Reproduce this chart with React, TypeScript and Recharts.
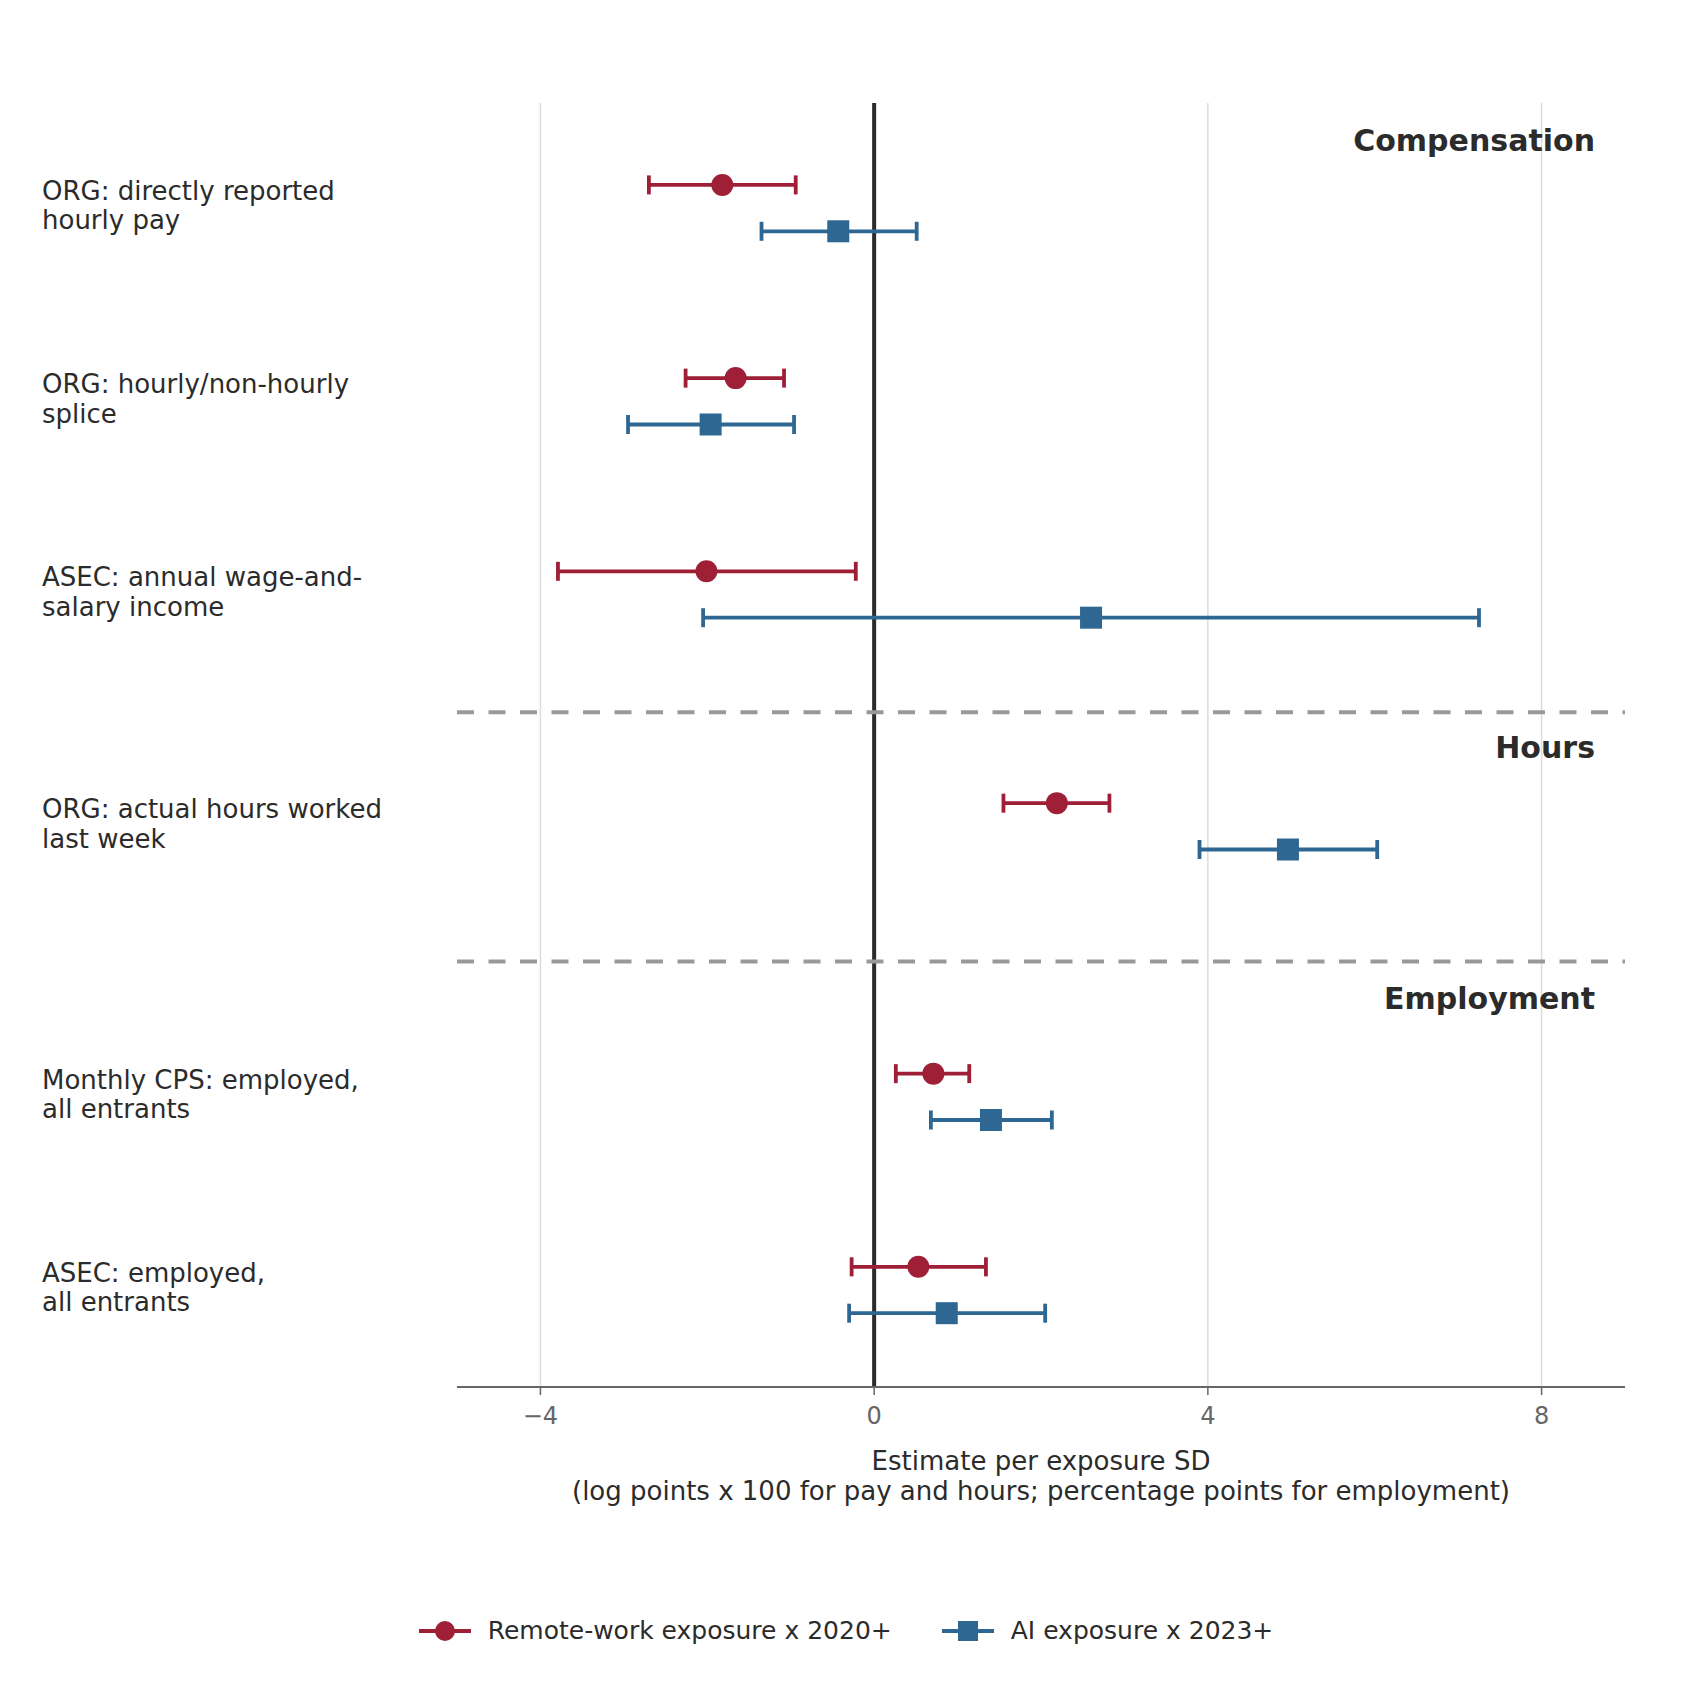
import {
  ComposedChart,
  Scatter,
  ErrorBar,
  XAxis,
  YAxis,
  ReferenceLine,
  Legend,
} from "recharts"

const rowLabels = [
  ["ORG: directly reported", "hourly pay"],
  ["ORG: hourly/non-hourly", "splice"],
  ["ASEC: annual wage-and-", "salary income"],
  ["ORG: actual hours worked", "last week"],
  ["Monthly CPS: employed,", "all entrants"],
  ["ASEC: employed,", "all entrants"],
]
const rowPositions = [0, 1, 2, 3.2, 4.6, 5.6]
const seriesOffset = 0.24

const remoteEst = [-1.82, -1.66, -2.01, 2.19, 0.71, 0.53]
const remoteLo = [-2.7, -2.26, -3.79, 1.55, 0.26, -0.27]
const remoteHi = [-0.94, -1.08, -0.22, 2.82, 1.14, 1.34]

const aiEst = [-0.43, -1.96, 2.6, 4.96, 1.4, 0.87]
const aiLo = [-1.35, -2.95, -2.05, 3.9, 0.68, -0.3]
const aiHi = [0.51, -0.96, 7.25, 6.03, 2.13, 2.05]

const sectionTitles = ["Compensation", "Hours", "Employment"]
const sectionTitleY = [-0.23, 2.91, 4.21]
const dividerY = [2.73, 4.02]

const xTicks = [-4, 0, 4, 8]

const RED = "#9e1f36"
const BLUE = "#2e6791"
const TEXT = "#2b2b2b"
const FONT = "DejaVu Sans, sans-serif"

const remoteData = remoteEst.map((v, i) => ({
  x: v,
  y: rowPositions[i],
  err: [v - remoteLo[i], remoteHi[i] - v],
}))
const aiData = aiEst.map((v, i) => ({
  x: v,
  y: rowPositions[i] + seriesOffset,
  err: [v - aiLo[i], aiHi[i] - v],
}))
const rowCenters = rowPositions.map((p) => p + seriesOffset / 2)

const Dot = (props: any) => <circle cx={props.cx} cy={props.cy} r={11} fill={RED} />
const Square = (props: any) => (
  <rect x={props.cx - 11} y={props.cy - 11} width={22} height={22} fill={BLUE} />
)

const RowTick = ({ y, payload }: any) => {
  const lines = rowLabels[rowCenters.indexOf(payload.value)] ?? []
  return (
    <text x={42} y={y - 2.5} fill={TEXT} fontSize={26} fontFamily={FONT} textAnchor="start" dominantBaseline="central">
      {lines.map((l, i) => (
        <tspan key={i} x={42} dy={i === 0 ? -((lines.length - 1) * 29.5) / 2 : 29.5}>
          {l}
        </tspan>
      ))}
    </text>
  )
}

const XLabel = ({ viewBox }: any) => {
  const cx = viewBox.x + viewBox.width / 2
  return (
    <text x={cx} y={1461} fill={TEXT} fontSize={26} fontFamily={FONT} textAnchor="middle" dominantBaseline="central">
      <tspan x={cx}>Estimate per exposure SD</tspan>
      <tspan x={cx} dy={30}>
        (log points x 100 for pay and hours; percentage points for employment)
      </tspan>
    </text>
  )
}

const legendItems = [
  { name: "Remote-work exposure x 2020+", color: RED, shape: "circle" },
  { name: "AI exposure x 2023+", color: BLUE, shape: "square" },
]

const LegendContent = () => (
  <div
    style={{
      display: "flex",
      justifyContent: "center",
      alignItems: "center",
      gap: 50,
      fontFamily: FONT,
      fontSize: 25,
      color: TEXT,
    }}
  >
    {legendItems.map((item) => (
      <div key={item.name} style={{ display: "flex", alignItems: "center", gap: 17 }}>
        <svg width={52} height={24}>
          <line x1={0} y1={12} x2={52} y2={12} stroke={item.color} strokeWidth={3.8} />
          {item.shape === "circle" ? (
            <circle cx={26} cy={12} r={10} fill={item.color} />
          ) : (
            <rect x={16} y={2} width={20} height={20} fill={item.color} />
          )}
        </svg>
        <span>{item.name}</span>
      </div>
    ))}
  </div>
)

export default function App() {
  return (
    <div style={{ position: "absolute", left: 0, top: 0, width: 1692, height: 1692, background: "#fff" }}>
      <ComposedChart
        width={1692}
        height={1692}
        margin={{ top: 103, right: 67, bottom: 176, left: 0 }}
      >
        <XAxis
          type="number"
          dataKey="x"
          domain={[-5, 9]}
          ticks={xTicks}
          height={100}
          tickFormatter={(v: number) => (v < 0 ? `\u2212${-v}` : `${v}`)}
          tick={{ fill: "#666", fontSize: 24, fontFamily: FONT }}
          tickSize={8}
          tickMargin={12}
          axisLine={{ stroke: "#666", strokeWidth: 2 }}
          tickLine={{ stroke: "#666", strokeWidth: 1.5 }}
          label={<XLabel />}
        />
        <YAxis
          type="number"
          dataKey="y"
          domain={[-0.424, 6.222]}
          reversed
          allowDataOverflow
          ticks={rowCenters}
          width={457}
          axisLine={false}
          tickLine={false}
          tick={<RowTick />}
        />
        {xTicks
          .filter((t) => t !== 0)
          .map((t) => (
            <ReferenceLine key={`g${t}`} x={t} stroke="#dcdcdc" strokeWidth={1.5} />
          ))}
        <ReferenceLine x={0} stroke="#2b2b2b" strokeWidth={4} />
        {dividerY.map((y) => (
          <ReferenceLine key={y} y={y} stroke="#999" strokeWidth={4} strokeDasharray="17 14.5" />
        ))}
        {sectionTitles.map((t, i) => (
          <ReferenceLine
            key={t}
            y={sectionTitleY[i]}
            stroke="none"
            label={{
              value: t,
              position: "insideRight",
              offset: 30,
              fill: TEXT,
              fontSize: 30,
              fontWeight: "bold",
              fontFamily: FONT,
            }}
          />
        ))}
        <Scatter data={remoteData} shape={<Dot />} isAnimationActive={false}>
          <ErrorBar dataKey="err" direction="x" width={9.5} stroke={RED} strokeWidth={3.8} />
        </Scatter>
        <Scatter data={aiData} shape={<Square />} isAnimationActive={false}>
          <ErrorBar dataKey="err" direction="x" width={9.5} stroke={BLUE} strokeWidth={3.8} />
        </Scatter>
        <Legend content={<LegendContent />} wrapperStyle={{ top: 1616, left: 0, width: 1692 }} />
      </ComposedChart>
    </div>
  )
}
